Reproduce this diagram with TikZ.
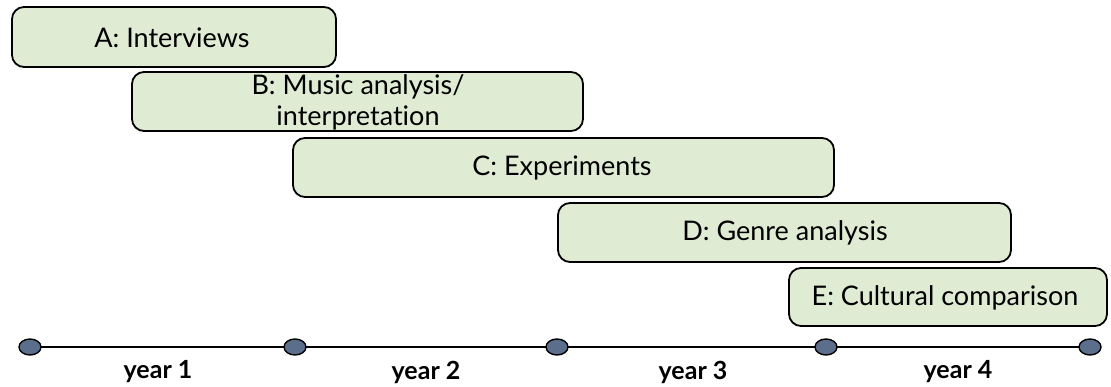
\documentclass[tikz,border=0pt]{standalone}
\usepackage{fontspec}
\setmainfont{Lato}[Ligatures={NoCommon,NoDiscretionary}]
\usetikzlibrary{positioning,shapes.geometric}
\definecolor{boxfill}{HTML}{E0EBD4}
\definecolor{dotfill}{HTML}{5B6E8C}
\begin{document}
\begin{tikzpicture}[x=1pt,y=-1pt,
  task/.style={draw=black,line width=1.8pt,fill=boxfill,rounded corners=12pt},
  tasktext/.style={font=\fontsize{27}{31}\selectfont,align=center,text=black,inner sep=0pt},
  dot/.style={ellipse,draw=black,line width=1.4pt,fill=dotfill,minimum width=22pt,minimum height=16pt,inner sep=0pt},
  yearlbl/.style={font=\fontsize{25}{30}\selectfont\bfseries,inner sep=0pt}]
\useasboundingbox (0,0) rectangle (1111,387);
\draw[task] (12,7) rectangle (336,67);
\node[tasktext] (A) at (172,38) {A: Interviews};
\draw[task] (132,72) rectangle (583,131);
\node[tasktext] (B) at (358,102) {B: Music analysis/\\interpretation};
\draw[task] (293,138) rectangle (834,197);
\node[tasktext] (C) at (562,168) {C: Experiments};
\draw[task] (558,203) rectangle (1011,262);
\node[tasktext] (D) at (785,233) {D: Genre analysis};
\draw[task] (789,268) rectangle (1107,326);
\node[tasktext] (E) at (945,298) {E: Cultural comparison};
\draw[line width=1.8pt] (30,347) -- (1090,347);
\node[dot] (t0) at (30,347) {};
\node[dot] (t1) at (295,347) {};
\node[dot] (t2) at (557,347) {};
\node[dot] (t3) at (826,347) {};
\node[dot] (t4) at (1090,347) {};
\node[yearlbl] (y1) at (158,372) {year 1};
\node[yearlbl] (y2) at (426,372) {year 2};
\node[yearlbl] (y3) at (693,372) {year 3};
\node[yearlbl] (y4) at (958,372) {year 4};
\end{tikzpicture}
\end{document}
